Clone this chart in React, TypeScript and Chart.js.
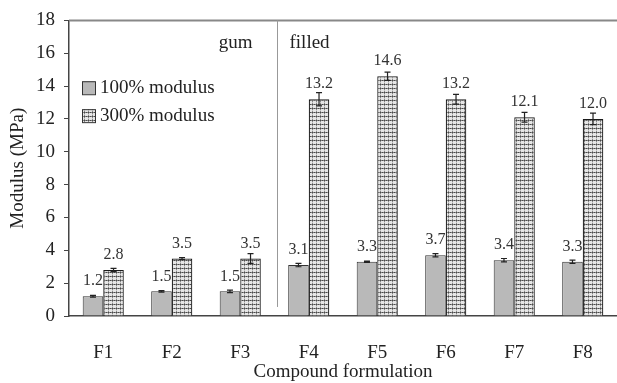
import React, { useEffect, useRef } from "react";
import { Chart, registerables } from "chart.js";

Chart.register(...registerables);

const categories = ["F1", "F2", "F3", "F4", "F5", "F6", "F7", "F8"];
const modulus100 = [1.2, 1.5, 1.5, 3.1, 3.3, 3.7, 3.4, 3.3];
const modulus300 = [2.8, 3.5, 3.5, 13.2, 14.6, 13.2, 12.1, 12.0];
const error100 = [0.05, 0.05, 0.08, 0.1, 0.04, 0.1, 0.1, 0.1];
const error300 = [0.1, 0.06, 0.3, 0.4, 0.25, 0.3, 0.3, 0.35];
const seriesLabels = ["100% modulus", "300% modulus"];
const groupLabels = ["gum", "filled"];
const yMin = 0;
const yMax = 18;
const yStep = 2;
const xTitle = "Compound formulation";
const yTitle = "Modulus (MPa)";

const FONT = '"Liberation Serif", "Times New Roman", serif';

function makePattern(): CanvasPattern | string {
  const pc = document.createElement("canvas");
  pc.width = 4;
  pc.height = 4;
  const p = pc.getContext("2d");
  if (!p) return "#bbb";
  p.fillStyle = "#e6e6e6";
  p.fillRect(0, 0, 4, 4);
  p.fillStyle = "#4a4a4a";
  p.fillRect(0, 0, 1, 1);
  p.fillRect(2, 0, 1, 1);
  p.fillStyle = "#858585";
  p.fillRect(1, 0, 1, 1);
  p.fillRect(3, 0, 1, 1);
  p.fillRect(0, 1, 1, 3);
  p.fillStyle = "#c4c4c4";
  p.fillRect(0, 2, 1, 1);
  const pat = p.createPattern(pc, "repeat");
  return pat || "#bbb";
}

export default function App() {
  const ref = useRef<HTMLCanvasElement>(null);

  useEffect(() => {
    const canvas = ref.current;
    if (!canvas) return;
    const pattern = makePattern();

    const drawLabels = (chart: any, dsIndex: number, values: number[]) => {
      const ctx = chart.ctx;
      const meta = chart.getDatasetMeta(dsIndex);
      const y = chart.scales.y;
      ctx.save();
      ctx.font = `16px ${FONT}`;
      ctx.fillStyle = "#333";
      ctx.textAlign = "center";
      ctx.textBaseline = "middle";
      values.forEach((v, i) => {
        const el = meta.data[i];
        ctx.fillText(v.toFixed(1), el.x, y.getPixelForValue(v) - 15);
      });
      ctx.restore();
    };

    const overlay = {
      id: "overlay",
      beforeDatasetsDraw(chart: any) {
        drawLabels(chart, 0, modulus100);
      },
      afterDatasetsDraw(chart: any) {
        const ctx = chart.ctx;
        const { left, right, top } = chart.chartArea;
        const xs = chart.scales.x;
        const ys = chart.scales.y;

        // error bars
        ctx.save();
        ctx.strokeStyle = "#222";
        ctx.lineWidth = 1.2;
        [
          [modulus100, error100],
          [modulus300, error300],
        ].forEach((pair, ds) => {
          const vals = pair[0];
          const errs = pair[1];
          const meta = chart.getDatasetMeta(ds);
          vals.forEach((v, i) => {
            const x = meta.data[i].x;
            const y1 = ys.getPixelForValue(v - errs[i]);
            const y2 = ys.getPixelForValue(v + errs[i]);
            ctx.beginPath();
            ctx.moveTo(x, y1);
            ctx.lineTo(x, y2);
            ctx.moveTo(x - 3, y1);
            ctx.lineTo(x + 3, y1);
            ctx.moveTo(x - 3, y2);
            ctx.lineTo(x + 3, y2);
            ctx.stroke();
          });
        });
        ctx.restore();

        drawLabels(chart, 1, modulus300);

        // top border
        ctx.save();
        ctx.strokeStyle = "#888";
        ctx.lineWidth = 2;
        ctx.beginPath();
        ctx.moveTo(left, top);
        ctx.lineTo(right, top);
        ctx.stroke();

        // divider
        const dx = Math.round(xs.getPixelForValue(2.53)) + 0.5;
        ctx.strokeStyle = "#999";
        ctx.lineWidth = 1;
        ctx.beginPath();
        ctx.moveTo(dx, top);
        ctx.lineTo(dx, ys.getPixelForValue(0.55));
        ctx.stroke();

        // group labels
        ctx.font = `19px ${FONT}`;
        ctx.fillStyle = "#222";
        ctx.textBaseline = "middle";
        const gy = ys.getPixelForValue(16.6);
        ctx.textAlign = "right";
        ctx.fillText(groupLabels[0], dx - 25, gy);
        ctx.textAlign = "left";
        ctx.fillText(groupLabels[1], dx + 12, gy);

        // legend
        const fills = ["#b9b9b9", pattern];
        [0, 1].forEach((k) => {
          const cy = ys.getPixelForValue(13.9 - k * 1.7);
          ctx.fillStyle = fills[k];
          ctx.fillRect(left + 13, cy - 6.5, 13, 13);
          ctx.strokeStyle = "#333";
          ctx.lineWidth = 1;
          ctx.strokeRect(left + 13.5, cy - 6, 13, 13);
          ctx.fillStyle = "#222";
          ctx.textAlign = "left";
          ctx.fillText(seriesLabels[k], left + 31, cy);
        });
        ctx.restore();
      },
    };

    const chart = new Chart(canvas, {
      type: "bar",
      data: {
        labels: categories,
        datasets: [
          {
            label: seriesLabels[0],
            data: modulus100,
            backgroundColor: "#b9b9b9",
            borderColor: "#333",
            borderWidth: 1,
            categoryPercentage: 0.6,
            barPercentage: 1.0,
          },
          {
            label: seriesLabels[1],
            data: modulus300,
            backgroundColor: pattern as any,
            borderColor: "#1a1a1a",
            borderWidth: 1.2,
            categoryPercentage: 0.6,
            barPercentage: 1.0,
          },
        ],
      },
      options: {
        responsive: false,
        animation: false,
        devicePixelRatio: 1,
        layout: { padding: { top: 20, right: 0, left: 0, bottom: 0 } },
        plugins: {
          legend: { display: false },
          tooltip: { enabled: false },
        },
        scales: {
          x: {
            grid: { display: false },
            border: { display: true, color: "#444", width: 1.5 },
            ticks: {
              font: { family: FONT, size: 19 },
              color: "#222",
              padding: 18,
            },
            title: {
              display: true,
              text: xTitle,
              font: { family: FONT, size: 19 },
              color: "#222",
              padding: { top: 0, bottom: 0 },
            },
            afterFit: (s: any) => {
              s.height = 67;
            },
          },
          y: {
            min: yMin,
            max: yMax,
            grid: {
              display: true,
              drawOnChartArea: false,
              drawTicks: true,
              tickLength: 5,
              color: "#444",
            },
            border: { display: true, color: "#444", width: 1.5 },
            ticks: {
              stepSize: yStep,
              font: { family: FONT, size: 19 },
              color: "#222",
              padding: 9,
            },
            title: {
              display: true,
              text: yTitle,
              font: { family: FONT, size: 19 },
              color: "#222",
              padding: { top: 7, bottom: 0 },
            },
            afterFit: (s: any) => {
              s.width = 69;
            },
          },
        },
      },
      plugins: [overlay],
    });

    return () => chart.destroy();
  }, []);

  return (
    <div style={{ position: "absolute", left: 0, top: 0, width: 617, height: 383, background: "#fff" }}>
      <canvas ref={ref} width={617} height={383} />
    </div>
  );
}
